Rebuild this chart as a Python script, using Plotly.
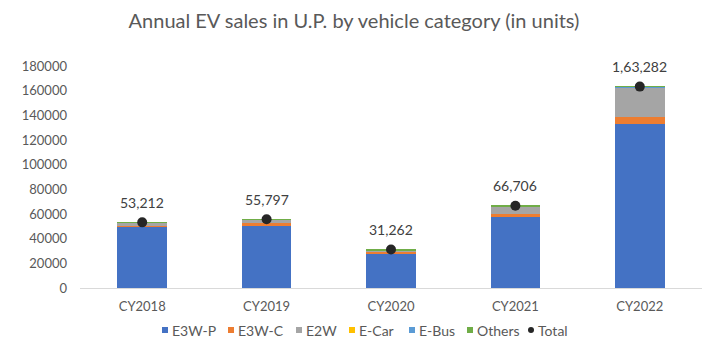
import plotly.graph_objects as go

years = ["CY2018", "CY2019", "CY2020", "CY2021", "CY2022"]
e3w_p = [49500, 51000, 28300, 57500, 132700]
e3w_c = [1000, 1500, 1300, 2900, 6100]
e2w = [2300, 2800, 600, 5800, 24000]
e_car = [100, 100, 600, 200, 100]
e_bus = [0, 0, 0, 0, 82]
others = [312, 397, 462, 306, 300]
total = [53212, 55797, 31262, 66706, 163282]
total_labels = ["53,212", "55,797", "31,262", "66,706", "1,63,282"]

series_names = ["E3W-P", "E3W-C", "E2W", "E-Car", "E-Bus", "Others"]
series_vals = [e3w_p, e3w_c, e2w, e_car, e_bus, others]
colors = ["#4472C4", "#ED7D31", "#A5A5A5", "#FFC000", "#5B9BD5", "#70AD47"]
total_color = "#262626"

FONT = "Lato, Open Sans, sans-serif"
TXT = "#595959"

# plot area in pixels
L, R, T, B = 80, 702, 66, 288
W, H = 708, 352


def px2paper(x, y):
    return (x - L) / (R - L), (B - y) / (B - T)


fig = go.Figure()
for name, vals, color in zip(series_names, series_vals, colors):
    fig.add_trace(go.Bar(x=years, y=vals, name=name,
                         marker=dict(color=color, line=dict(width=0)),
                         showlegend=False))

fig.add_trace(go.Scatter(
    x=years, y=total, name="Total", mode="markers",
    marker=dict(color=total_color, size=10), showlegend=False,
))

annotations = []
for yr, val, lab in zip(years, total, total_labels):
    annotations.append(dict(x=yr, y=val, xref="x", yref="y", text=lab,
                            showarrow=False, yshift=20, yanchor="middle",
                            font=dict(size=14, color="#404040", family=FONT)))

# custom compact legend (Excel style)
legend_items = series_names + ["Total"]
legend_colors = colors + [total_color]
sq_x = [162, 228, 296, 349, 409, 467, 528]
ly = 330
shapes = []
for i, (nm, col) in enumerate(zip(legend_items, legend_colors)):
    x0 = sq_x[i]
    a0, b0 = px2paper(x0, ly - 3)
    a1, b1 = px2paper(x0 + 6, ly + 3)
    shapes.append(dict(type="circle" if nm == "Total" else "rect",
                       xref="paper", yref="paper",
                       x0=a0, x1=a1, y0=b1, y1=b0,
                       fillcolor=col, line=dict(width=0)))
    tx, ty = px2paper(x0 + 8, ly)
    annotations.append(dict(x=tx, y=ty, xref="paper", yref="paper", text=nm,
                            showarrow=False, xanchor="left", yanchor="middle",
                            font=dict(size=14, color=TXT, family=FONT)))

fig.update_layout(
    width=W, height=H,
    barmode="stack", bargap=0.6,
    paper_bgcolor="white", plot_bgcolor="white",
    margin=dict(l=L, r=W - R, t=T, b=H - B),
    title=dict(text="Annual EV sales in U.P. by vehicle category (in units)",
               x=0.5, xanchor="center", y=0.94, yanchor="middle",
               font=dict(size=20, color=TXT, family=FONT)),
    font=dict(family=FONT, color=TXT, size=13),
    showlegend=False,
    annotations=annotations,
    shapes=shapes,
    xaxis=dict(showgrid=False, showline=True, linecolor="#D9D9D9", linewidth=1,
               tickfont=dict(size=13, color=TXT), ticks="", ticklabelstandoff=6),
    yaxis=dict(range=[0, 180000], dtick=20000, showgrid=False, zeroline=False,
               showline=False, tickformat="d", tickfont=dict(size=13, color=TXT),
               ticks="", ticklabelstandoff=12),
)

fig.write_html("out.html")
